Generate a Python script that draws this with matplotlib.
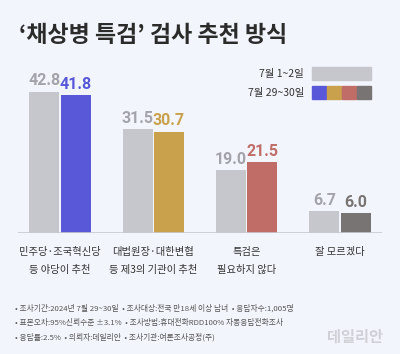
import matplotlib
matplotlib.use("Agg")
import matplotlib.pyplot as plt
from matplotlib.patches import Rectangle
import numpy as np

plt.rcParams['font.family'] = ['Noto Sans CJK KR', 'DejaVu Sans']

categories = ["민주당·조국혁신당\n등 야당이 추천", "대법원장·대한변협\n등 제3의 기관이 추천",
              "특검은\n필요하지 않다", "잘 모르겠다"]
july_early = [42.8, 31.5, 19.0, 6.7]
july_late = [41.8, 30.7, 21.5, 6.0]
legend_labels = ["7월 1~2일", "7월 29~30일"]
title = "‘채상병 특검’ 검사 추천 방식"
notes = ["• 조사기간:2024년 7월 29~30일  • 조사대상:전국 만18세 이상 남녀  • 응답자수:1,005명",
         "• 표본오차:95%신뢰수준 ±3.1%  • 조사방법:휴대전화RDD100% 자동응답전화조사",
         "• 응답률:2.5%  • 의뢰자:데일리안  • 조사기관:여론조사공정(주)"]

BG = "#f2f5fb"
GRAY = "#c5c7cc"
late_colors = ["#5858d8", "#c9a04c", "#c06c67", "#797474"]
label_gray = "#a3a4aa"

W, H = 400, 354
fig = plt.figure(figsize=(W / 100, H / 100), dpi=100, facecolor=BG)

def fx(px):
    return px / W

def fy(py):
    return 1 - py / H

fig.text(fx(19), fy(35), title, fontsize=16.5, fontweight='bold', color="#2b2b2b",
         va='center', ha='left')

ax = fig.add_axes([fx(18), fy(233), fx(364), (233 - 68) / H])
ax.set_facecolor(BG)
ax.set_xlim(-0.45, 3.45)
ax.set_ylim(0, 50)
for s in ax.spines.values():
    s.set_visible(False)
ax.set_xticks([])
ax.set_yticks([])
ax.axhline(0, color="#c8cad0", lw=1.2, zorder=3)

x = np.arange(len(categories))
w = 0.32
off = 0.167
ax.bar(x - off, july_early, width=w, color=GRAY, zorder=2)
ax.bar(x + off, july_late, width=w, color=late_colors, zorder=2)

num_font = ['Roboto', 'DejaVu Sans']
for i in range(len(categories)):
    ax.text(x[i] - off, july_early[i] + 1.0, f"{july_early[i]:.1f}", ha='center', va='bottom',
            fontsize=11.5, fontweight='bold', color=label_gray, family=num_font)
    ax.text(x[i] + off, july_late[i] + 1.0, f"{july_late[i]:.1f}", ha='center', va='bottom',
            fontsize=11.5, fontweight='bold', color=late_colors[i], family=num_font)

for i in range(len(categories)):
    lines = categories[i].split("\n")
    for j, ln in enumerate(lines):
        fig.text(fx(60 + i * 93.4), fy(252 + j * 18), ln, ha='center', va='center',
                 fontsize=7.4, color="#333333")

# legend
fig.text(fx(304), fy(74), legend_labels[0], ha='right', va='center', fontsize=7.5, color="#333333")
fig.text(fx(304), fy(93), legend_labels[1], ha='right', va='center', fontsize=7.5, color="#333333")
fig.patches.append(Rectangle((fx(312), fy(80)), fx(59), (80 - 67) / H, transform=fig.transFigure,
                             color=GRAY, figure=fig))
for j, c in enumerate(late_colors):
    fig.patches.append(Rectangle((fx(312 + j * 15), fy(99)), fx(13.5), 13 / H,
                                 transform=fig.transFigure, color=c, figure=fig))

for k, n in enumerate(notes):
    fig.text(fx(15), fy(308 + k * 14.5), n, ha='left', va='center', fontsize=5.6, color="#555555")

fig.text(fx(383), fy(337), "데일리안", ha='right', va='center', fontsize=11, color="#cfd1d6",
         fontweight='bold')

fig.savefig("out.png", dpi=100, facecolor=BG)
